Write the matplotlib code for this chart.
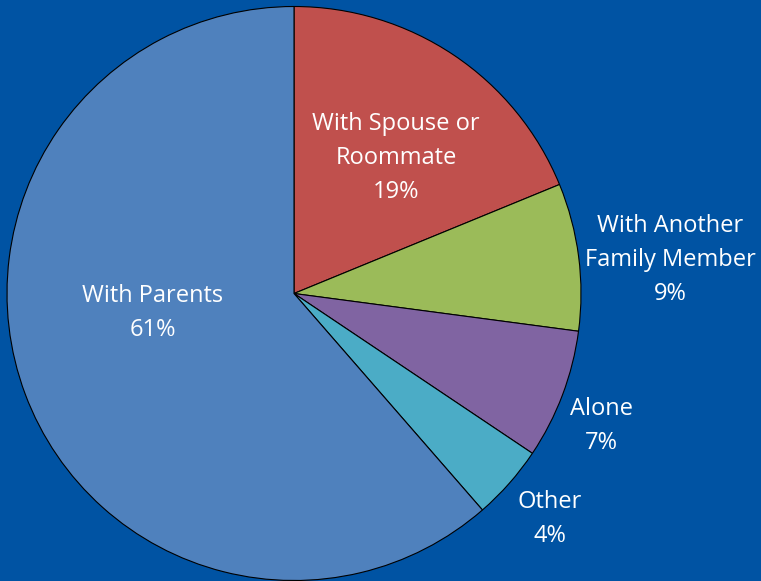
import matplotlib
matplotlib.use("Agg")
import matplotlib.pyplot as plt

# Slice shares (labels show the rounded values)
categories = ["With Spouse or\nRoommate", "With Another\nFamily Member", "Alone", "Other", "With Parents"]
shares = [18.8, 8.3, 7.3, 4.2, 61.4]
pct_labels = ["19%", "9%", "7%", "4%", "61%"]
colors = ["#C0504D", "#9BBB59", "#8064A2", "#4BACC6", "#4F81BD"]

# where each label sits (pixels, origin bottom-left)
label_xy = [(396, 423), (670, 321), (601, 155), (550, 62), (153, 268)]

bg = "#0053A3"

plt.rcParams['font.family'] = ['Open Sans', 'DejaVu Sans']

fig = plt.figure(figsize=(7.61, 5.81), dpi=100)
fig.patch.set_facecolor(bg)
ax = fig.add_axes([0, 0, 1, 1])
ax.set_facecolor(bg)

ax.pie(shares, colors=colors, startangle=90, counterclock=False,
       radius=287, center=(294, 287.5),
       wedgeprops=dict(edgecolor="black", linewidth=0.8))

for name, pct, (x, y) in zip(categories, pct_labels, label_xy):
    ax.text(x, y, name + "\n" + pct, ha="center", va="center",
            color="white", fontsize=17, linespacing=1.55)

ax.set_xlim(0, 761)
ax.set_ylim(0, 581)
ax.set_aspect("equal")
ax.axis("off")

fig.savefig("out.png", dpi=100, facecolor=bg)
